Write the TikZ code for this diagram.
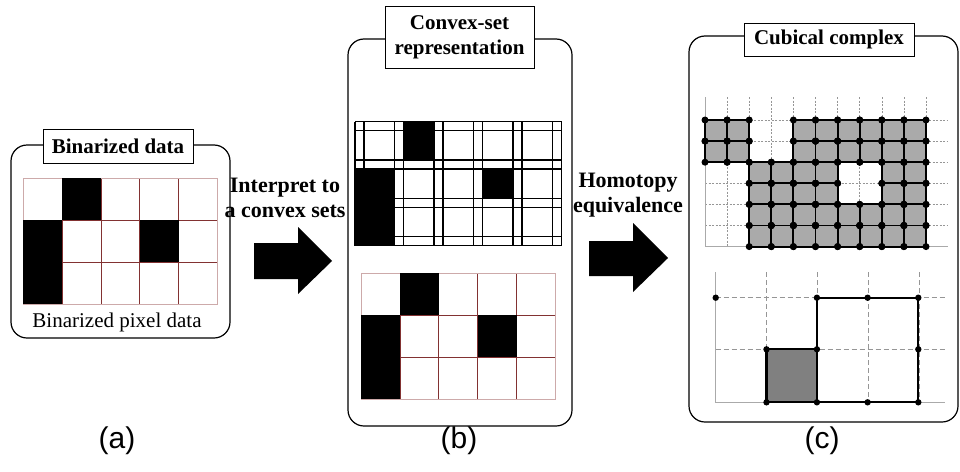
\documentclass[tikz,border=0pt]{standalone}
\usepackage{fontspec}
\setmainfont{Liberation Serif}
\newfontfamily\sansf{Liberation Sans}
\definecolor{pixred}{RGB}{130,50,50}
\definecolor{pixlight}{RGB}{205,170,170}
\definecolor{cubegray}{RGB}{170,170,170}
\definecolor{dashgray}{RGB}{150,150,150}
\definecolor{axisgray}{RGB}{170,170,170}
\begin{document}
\begin{tikzpicture}[x=1pt,y=-1pt,
  panel/.style={draw=black, line width=1.2pt, rounded corners=16pt},
  titlebox/.style={draw, fill=white, line width=0.9pt, font=\fontsize{21}{25}\selectfont\bfseries, align=center, inner sep=0pt},
  midtext/.style={font=\fontsize{22}{25}\selectfont\bfseries, align=center},
  pixline/.style={draw=pixred, line width=0.7pt},
  cvxline/.style={line width=1.3pt},
  cubeedge/.style={line width=1.9pt},
  gdash/.style={draw=dashgray, line width=0.6pt, dash pattern=on 2pt off 1.5pt},
  gdashb/.style={draw=dashgray, line width=0.8pt, dash pattern=on 5pt off 3pt},
  axisline/.style={draw=axisgray, line width=1pt},
  caption/.style={font=\sansf\fontsize{30}{32}\selectfont}]
\useasboundingbox (0,0) rectangle (960,471);

% ---------------- panel (a)
\draw[panel] (11,145) rectangle (230,338);
\foreach \i in {1,...,4} \draw[pixline] (23.3+38.8*\i,178.3) -- (23.3+38.8*\i,304.3);
\foreach \j in {1,2} \draw[pixline] (23.3,178.3+42*\j) -- (217.3,178.3+42*\j);
\draw[draw=pixlight, line width=0.7pt] (23.3,178.3) rectangle (217.3,304.3);
\fill (62.1,178.3) rectangle (100.9,220.3);
\fill (23.3,220.3) rectangle (62.1,304.3);
\fill (139.7,220.3) rectangle (178.5,262.3);
\node[titlebox, minimum width=150pt, minimum height=34pt] (ta) at (118,146) {Binarized data};
\node[font=\fontsize{21}{25}\selectfont] (la) at (117,322) {Binarized pixel data};

% ---------------- arrow 1 and its text
\fill (254,243) -- (298,243) -- (298,227) -- (332,261) -- (298,294) -- (298,279) -- (254,279) -- cycle;
\node[midtext] (t1) at (285,198) {Interpret to\\a convex sets};

% ---------------- panel (b)
\draw[panel] (348,39) rectangle (572,426);
\foreach \k in {0,...,5} {
  \draw[cvxline] (355+39.5*\k,121.7) -- (355+39.5*\k,245.6);
  \draw[cvxline] (364+39.5*\k,121.7) -- (364+39.5*\k,245.6);
}
\foreach \k in {0,...,3} {
  \draw[cvxline] (355,121.7+38.3*\k) -- (561.5,121.7+38.3*\k);
  \draw[cvxline] (355,130.7+38.3*\k) -- (561.5,130.7+38.3*\k);
}
\fill (403.5,121.7) rectangle (434,160);
\fill (355,169) rectangle (394.5,245.6);
\fill (482.5,169) rectangle (513,198.3);
% bottom pixel grid
\foreach \i in {1,...,4} \draw[pixline] (361+38.9*\i,273.3) -- (361+38.9*\i,399.3);
\foreach \j in {1,2} \draw[pixline] (361,273.3+42*\j) -- (555.5,273.3+42*\j);
\draw[draw=pixlight, line width=0.7pt] (361,273.3) rectangle (555.5,399.3);
\fill (399.9,273.3) rectangle (438.8,315.3);
\fill (361,315.3) rectangle (399.9,399.3);
\fill (477.7,315.3) rectangle (516.6,357.3);
\node[titlebox, minimum width=149pt, minimum height=62pt] (tb) at (459.5,37) {Convex-set\\representation};

% ---------------- arrow 2 and its text
\fill (589,241) -- (633,241) -- (633,223) -- (668,258) -- (633,292) -- (633,276) -- (589,276) -- cycle;
\node[midtext] (t2) at (628,195) {Homotopy\\equivalence};

% ---------------- panel (c)
\draw[panel] (689,36) rectangle (958,422);
% upper cubical complex
\foreach \i in {1,...,10} \draw[gdash] (705+22.1*\i,97) -- (705+22.1*\i,246.6);
\foreach \j in {0,...,5} \draw[gdash] (705,120+21.1*\j) -- (948,120+21.1*\j);
\draw[axisline] (705,97) -- (705,246.6) -- (948,246.6);
\def\cells{0/0,1/0,4/0,5/0,6/0,7/0,8/0,9/0,0/1,1/1,4/1,5/1,6/1,7/1,8/1,9/1,2/2,3/2,4/2,5/2,8/2,9/2,2/3,3/3,4/3,5/3,8/3,9/3,2/4,3/4,4/4,5/4,6/4,7/4,8/4,9/4,2/5,3/5,4/5,5/5,6/5,7/5,8/5,9/5}
\foreach \i/\j in \cells \fill[cubegray] (705+22.1*\i,120+21.1*\j) rectangle ++(22.1,21.1);
\foreach \i/\j in \cells \draw[cubeedge] (705+22.1*\i,120+21.1*\j) rectangle ++(22.1,21.1);
\foreach \i/\j in \cells {
  \fill (705+22.1*\i,120+21.1*\j) circle (3.5);
  \fill (727.1+22.1*\i,120+21.1*\j) circle (3.5);
  \fill (705+22.1*\i,141.1+21.1*\j) circle (3.5);
  \fill (727.1+22.1*\i,141.1+21.1*\j) circle (3.5);
}
% lower cubical complex
\foreach \i in {1,...,4} \draw[gdashb] (715.7+50.8*\i,272) -- (715.7+50.8*\i,402.3);
\draw[gdashb] (715.7,297.7) -- (945,297.7);
\draw[gdashb] (715.7,349.3) -- (945,349.3);
\draw[axisline] (715.7,272) -- (715.7,402.3) -- (945,402.3);
\filldraw[fill=gray, line width=2.2pt] (766.5,349.3) rectangle (816.9,402.3);
\draw[line width=2.2pt] (816.9,349.3) -- (816.9,297.7) -- (918.3,297.7) -- (918.3,402.3) -- (816.9,402.3);
\foreach \p in {(715.7,297.7),(766.5,349.3),(816.9,349.3),(766.5,402.3),(816.9,402.3),(816.9,297.7),(867.6,297.7),(918.3,297.7),(918.3,349.3),(867.6,402.3),(918.3,402.3)}
  \fill \p circle (3.2);
\node[titlebox, minimum width=170pt, minimum height=33pt] (tc) at (829,39.5) {Cubical complex};

% ---------------- captions
\node[caption] (ca) at (117,441) {(a)};
\node[caption] (cb) at (459,441) {(b)};
\node[caption] (cc) at (822,441) {(c)};
\end{tikzpicture}
\end{document}
